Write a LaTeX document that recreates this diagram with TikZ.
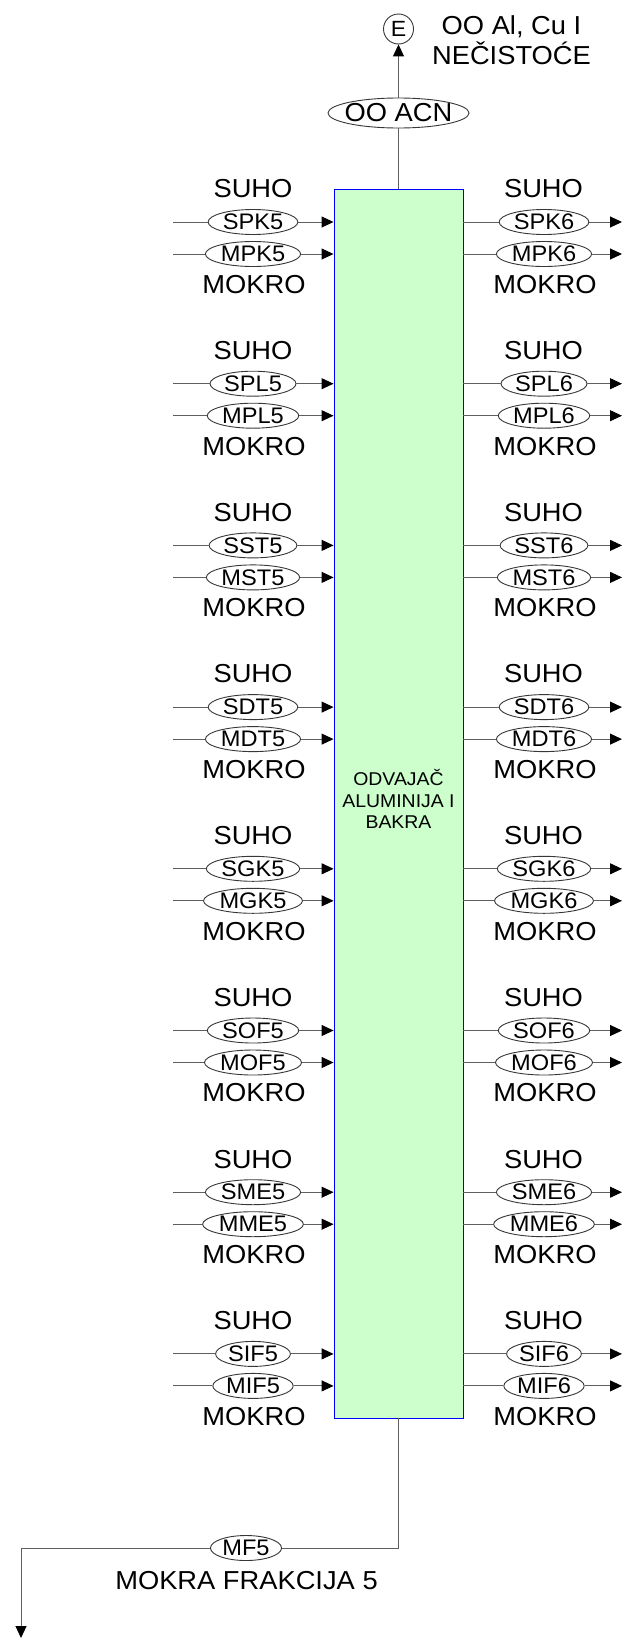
\documentclass[tikz,border=0pt]{standalone}
\usepackage{fontspec}
\setmainfont{Liberation Sans}[FakeStretch=1.05]
\usetikzlibrary{shapes.geometric,arrows.meta,calc}
\definecolor{linecol}{RGB}{95,95,95}
\definecolor{ellcol}{RGB}{55,55,55}
\definecolor{boxfill}{RGB}{204,255,204}
\begin{document}
\begin{tikzpicture}[x=1pt,y=-1pt,
  line/.style={draw=linecol,line width=1pt},
  arr/.style={line,-{Triangle[length=12pt,width=11pt,color=black]}},
  big/.style={font=\fontsize{26}{30}\selectfont,inner sep=0pt},
  lab/.style={ellipse,draw=ellcol,line width=0.9pt,fill=white,font=\fontsize{22.5}{25}\selectfont,inner xsep=1.5pt,inner ysep=0pt,minimum height=25pt}]
\useasboundingbox (0,0) rectangle (622,1638);
% main box
\node[draw=blue,line width=0.9pt,fill=boxfill,minimum width=129pt,minimum height=1229pt,inner sep=0pt] (box) at (398.5,803.5) {};
\node[font=\fontsize{18.5}{21.5}\selectfont,align=center,inner sep=0pt] (boxtxt) at (398.5,799) {ODVAJAČ\\ALUMINIJA I\\BAKRA};
% top
\node[lab,minimum width=141pt,minimum height=30pt,font=\fontsize{26}{30}\selectfont] (acn) at (398.5,113) {\makebox[40pt]{OO ACN}};
\node[circle,draw=ellcol,line width=0.9pt,minimum size=30pt,inner sep=0pt,font=\fontsize{22}{24}\selectfont] (E) at (398.5,29) {E};
\node[big,align=center] (eLabel) at (511.5,40.5) {OO Al, Cu I\\NEČISTOĆE};
\draw[line] (box.north) -- (acn);
\draw[arr] (acn) -- (E);
% groups
\foreach \n [count=\i from 0] in {PK,PL,ST,DT,GK,OF,ME,IF} {
  \pgfmathsetmacro\ys{222+161.7*\i}
  \pgfmathsetmacro\ym{\ys+32}
  % left
  \coordinate (inS\n) at (173,\ys);
  \coordinate (inM\n) at (173,\ym);
  \node[lab] (S\n5) at (253,\ys) {S\n5};
  \node[lab] (M\n5) at (253,\ym) {M\n5};
  \node[big,anchor=base] (suhoL\n) at (253,\ys-24.2) {SUHO};
  \node[big,anchor=base] (mokroL\n) at (254,\ys+71.3) {MOKRO};
  \draw[line] (inS\n) -- (S\n5);
  \draw[line] (inM\n) -- (M\n5);
  \draw[arr] (S\n5) -- (S\n5 -| box.west);
  \draw[arr] (M\n5) -- (M\n5 -| box.west);
  % right
  \coordinate (outS\n) at (622,\ys);
  \coordinate (outM\n) at (622,\ym);
  \node[lab] (S\n6) at (544,\ys) {S\n6};
  \node[lab] (M\n6) at (544,\ym) {M\n6};
  \node[big,anchor=base] (suhoR\n) at (543.5,\ys-24.2) {SUHO};
  \node[big,anchor=base] (mokroR\n) at (545,\ys+71.3) {MOKRO};
  \draw[line] (S\n6 -| box.east) -- (S\n6);
  \draw[line] (M\n6 -| box.east) -- (M\n6);
  \draw[arr] (S\n6) -- (outS\n);
  \draw[arr] (M\n6) -- (outM\n);
}
% bottom
\coordinate (endMF) at (21,1638);
\node[lab] (MF5) at (246,1548) {MF5};
\node[big,anchor=base] (mfLabel) at (246.5,1589.3) {MOKRA FRAKCIJA 5};
\draw[line] (box.south) |- (MF5);
\draw[arr] (MF5) -| (endMF);
\end{tikzpicture}
\end{document}
